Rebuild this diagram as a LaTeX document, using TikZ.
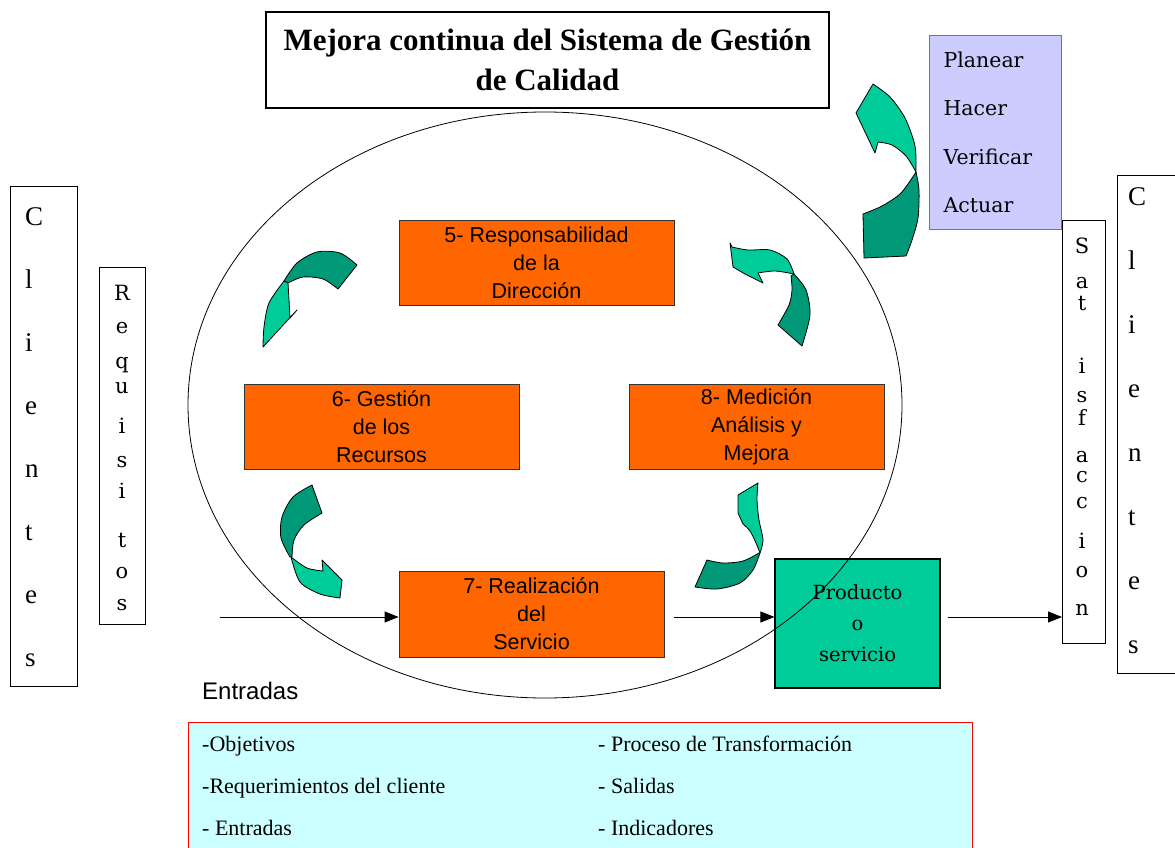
\documentclass[tikz,border=0pt]{standalone}
\usepackage{fontspec}
\setmainfont{Liberation Serif}
\newfontfamily\arialf{Liberation Sans}
\newfontfamily\msserif{DejaVu Serif}
\usetikzlibrary{arrows.meta,shapes.geometric}
\definecolor{orng}{HTML}{FF6600}
\definecolor{lgreen}{HTML}{00CC99}
\definecolor{dgreen}{HTML}{009977}
\definecolor{lav}{HTML}{CCCCFF}
\definecolor{lavb}{HTML}{6666EE}
\definecolor{lcyan}{HTML}{CCFFFF}
\begin{document}
\begin{tikzpicture}[x=1pt,y=-1pt,
  plainbox/.style={draw=black, line width=1.2pt, fill=white, inner sep=0pt},
  orangebox/.style={draw=black!80, line width=0.8pt, fill=orng, inner sep=0pt, minimum height=85pt,
     align=center, font=\arialf\fontsize{21.5}{28}\selectfont},
  bigletter/.style={font=\fontsize{27}{27}\selectfont, inner sep=0pt, anchor=base west},
  smallletter/.style={font=\msserif\fontsize{21}{21}\selectfont, inner sep=0pt, anchor=base},
  listtext/.style={font=\fontsize{22}{22}\selectfont, inner sep=0pt, anchor=base west},
  lightpart/.style={fill=lgreen, draw=black, line width=0.8pt, line join=round},
  darkpart/.style={fill=dgreen, draw=black, line width=0.8pt, line join=round},
  flow/.style={line width=0.8pt, -{Triangle[length=14pt,width=11pt]}}
]
\useasboundingbox[fill=white] (0,0) rectangle (1175,848);

% title
\node[plainbox, minimum width=563pt, minimum height=96pt, align=center,
  font=\bfseries\fontsize{31}{40}\selectfont] (title) at (547.5,60)
  {Mejora continua del Sistema de Gestión\\de Calidad};

% PHVA
\node[draw=lavb, line width=1.2pt, fill=lav, anchor=north west, inner xsep=14pt, inner ysep=0pt,
  text width=104pt, minimum height=194pt, align=left,
  font=\msserif\fontsize{20.5}{48.5}\selectfont] (phva) at (929,35)
  {Planear\\Hacer\\Verificar\\Actuar};

% Clientes left
\node[plainbox, anchor=north west, minimum width=67pt, minimum height=500pt] (cli) at (10,186) {};
\foreach \ch/\yy [count=\i] in {C/225,l/288,i/351,e/414,n/477,t/540,e/603,s/666}
  \node[bigletter] (cl\i) at (25,\yy) {\ch};

% Clientes right
\node[plainbox, anchor=north west, minimum width=67pt, minimum height=498pt] (clr) at (1117,175) {};
\foreach \ch/\yy [count=\i] in {C/205,l/269,i/333,e/397,n/461,t/525,e/589,s/653}
  \node[bigletter] (cr\i) at (1128,\yy) {\ch};

% Requisitos
\node[plainbox, anchor=north west, minimum width=46pt, minimum height=357pt] (req) at (99,267) {};
\foreach \ch/\yy [count=\i] in {R/300,e/333,q/368,u/393,i/433,s/467,i/498,t/547,o/578,s/610}
  \node[smallletter] (rq\i) at (122,\yy) {\ch};

% Satisfaccion
\node[plainbox, anchor=north west, minimum width=43pt, minimum height=423pt] (sat) at (1062,220) {};
\foreach \ch/\yy [count=\i] in {S/253,a/288,t/310,i/373,s/402,f/425,a/462,c/482,c/508,i/548,o/577,n/615}
  \node[smallletter] (st\i) at (1082,\yy) {\ch};

% orange boxes
\node[orangebox, minimum width=275pt] (r5) at (536.5,262.5) {5- Responsabilidad\\de la\\Dirección};
\node[orangebox, minimum width=275pt] (r6) at (381.5,426.5) {6- Gestión\\de los\\Recursos};
\node[orangebox, minimum width=255pt] (r8) at (756.5,426.5) {8- Medición\\Análisis y\\Mejora};
\node[orangebox, minimum width=265pt, minimum height=86pt] (r7) at (531.5,614) {7- Realización\\del\\Servicio};

% producto
\node[draw=black, line width=1.2pt, fill=lgreen, minimum width=165pt, minimum height=129pt, inner sep=0pt,
  align=center, font=\msserif\fontsize{19.5}{31}\selectfont] (prod) at (857.5,623.5)
  {Producto\\o\\servicio};

% ellipse
\node[draw=black, line width=0.8pt, ellipse, minimum width=714pt, minimum height=586pt, inner sep=0pt] (ell) at (545,405) {};

% flow arrows
\coordinate (inp) at (220,617);
\coordinate (mid) at (674,617);
\coordinate (outp) at (948,617);
\draw[flow] (inp) -- (inp -| r7.west);
\draw[flow] (mid) -- (mid -| prod.west);
\draw[flow] (outp) -- (outp -| sat.west);

% Entradas
\node[font=\arialf\fontsize{24}{24}\selectfont, inner sep=0pt, anchor=base west] (entr) at (202,699) {Entradas};

% bottom box
\node[draw=red, line width=1.2pt, fill=lcyan, anchor=north west, minimum width=784pt, minimum height=150pt, inner sep=0pt] (list) at (188,722) {};
\node[listtext] (l1) at (202,751) {-Objetivos};
\node[listtext] (l2) at (202,793) {-Requerimientos del cliente};
\node[listtext] (l3) at (202,835) {- Entradas};
\node[listtext] (l4) at (598,751) {- Proceso de Transformación};
\node[listtext] (l5) at (598,793) {- Salidas};
\node[listtext] (l6) at (598,835) {- Indicadores};

% curved arrow A (top right)
\filldraw[darkpart] plot[smooth] coordinates {(916,172) (919,190) (918,218) (912,240) (906,256)} -- (864,258) -- (863,214)
  -- plot[smooth] coordinates {(863,214) (882,206) (901,193) (916,172)} -- cycle;
\filldraw[lightpart] plot[smooth] coordinates {(873,84) (890,97) (905,118) (915,146) (916,172)}
  -- plot[smooth] coordinates {(916,172) (906,156) (892,145) (878,142)} -- (875,153) -- (856,113) -- cycle;

% curved arrow B (upper left)
\filldraw[darkpart] plot[smooth] coordinates {(284,281) (297,263) (317,252) (340,253) (357,265)} -- (338,289)
  -- plot[smooth] coordinates {(338,289) (323,279) (303,277) (288,283)} -- cycle;
\filldraw[lightpart] plot[smooth] coordinates {(284,281) (269,303) (264,327) (263,347)} -- (297,310) -- (290,318)
  -- plot[smooth] coordinates {(290,318) (289,300) (288,283)} -- cycle;

% curved arrow C (upper right)
\filldraw[lightpart] (730,243) -- plot[smooth] coordinates {(732,247) (748,250) (770,250) (787,259) (794,274)}
  -- plot[smooth] coordinates {(794,274) (775,271) (758,273)} -- (763,283) -- (745,274) -- (733,267) -- cycle;
\filldraw[darkpart] plot[smooth] coordinates {(794,274) (806,290) (810,315) (802,346)} -- (778,325)
  -- plot[smooth] coordinates {(778,325) (789,305) (792,290) (791,276)} -- cycle;

% curved arrow D (lower left)
\filldraw[darkpart] (312,485) -- (322,513) -- plot[smooth] coordinates {(322,513) (304,525) (294,540) (292,557)}
  -- plot[smooth] coordinates {(290,557) (281,538) (282,517) (293,497) (312,485)} -- cycle;
\filldraw[lightpart] plot[smooth] coordinates {(291,557) (307,568) (323,571)} -- (322,560) -- (342,580) -- (340,598)
  -- plot[smooth] coordinates {(340,598) (320,594) (300,582) (291,557)} -- cycle;

% curved arrow E (lower right)
\filldraw[lightpart] (758,483) -- (738,495) -- (738,513) -- plot[smooth] coordinates {(743,524) (750,531) (756,543) (760,553)}
  -- plot[smooth] coordinates {(760,553) (763,540) (759,520) (757,500) (758,483)} -- cycle;
\filldraw[darkpart] plot[smooth] coordinates {(760,553) (753,570) (740,583) (717,589) (695,587)} -- (707,560)
  -- plot[smooth] coordinates {(707,560) (723,563) (743,561) (759,553)} -- cycle;
\end{tikzpicture}
\end{document}
